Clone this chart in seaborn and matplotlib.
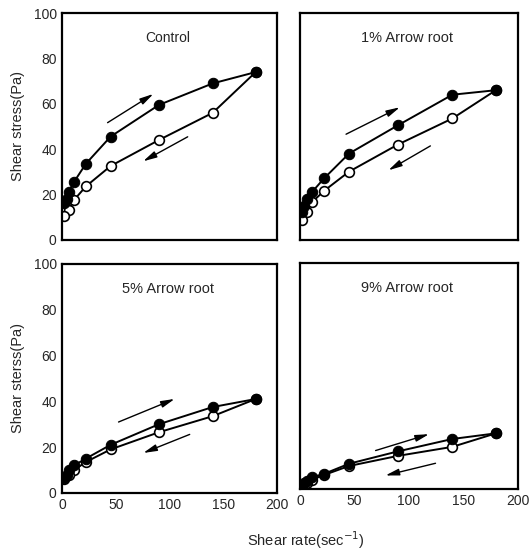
import numpy as np
import pandas as pd
import matplotlib
matplotlib.use("Agg")
import matplotlib.pyplot as plt
import seaborn as sns

# shear rates (sec^-1), up curve goes low -> high, down curve high -> low
rate_up = [2, 4, 6, 11, 22, 45, 90, 140, 180]
rate_down = [180, 140, 90, 45, 22, 11, 6, 2]

panels = ["Control", "1% Arrow root", "5% Arrow root", "9% Arrow root"]
title_sizes = [10, 10.5, 10.5, 10.5]

control_up = [16, 18, 21, 25.5, 33.5, 45.5, 59.5, 69, 74]
control_down = [74, 56, 44, 32.5, 23.5, 17.5, 13, 10.5]

ar1_up = [12, 15, 18, 21, 27, 38, 50.5, 64, 66]
ar1_down = [66, 53.5, 42, 30, 21.5, 16.5, 12, 8.5]

ar5_up = [6.5, 8, 10, 12, 15, 21, 30, 37.5, 41]
ar5_down = [41, 33.5, 26.5, 19, 13.5, 10, 8, 6]

ar9_up = [1.5, 2.5, 3.5, 5, 6.5, 11, 16.5, 22, 24.5]
ar9_down = [24.5, 18.5, 14.5, 10, 6, 4, 2.5, 1.5]

ups = [control_up, ar1_up, ar5_up, ar9_up]
downs = [control_down, ar1_down, ar5_down, ar9_down]

# direction arrows (x0, y0, x1, y1) in data units
arrows_up = [(40, 51, 87, 65), (40, 46, 94, 59), (50, 30.5, 107, 41.5), (67, 16.5, 121, 24.5)]
arrows_down = [(119, 46, 73, 34), (122, 42, 79, 30), (121, 26, 73, 17), (127, 11.5, 76, 5.5)]

sns.set_style("white")
plt.rcParams["font.family"] = ["Liberation Sans", "DejaVu Sans"]

fig = plt.figure(figsize=(5.32, 5.52), dpi=100)
rects = [
    [0.117, 0.566, 0.404, 0.410],
    [0.564, 0.566, 0.409, 0.410],
    [0.117, 0.107, 0.404, 0.415],
    [0.564, 0.115, 0.409, 0.408],
]

arrow_props = dict(arrowstyle="-|>,head_length=0.9,head_width=0.22",
                   color="black", lw=1.0, mutation_scale=9)

for i, name in enumerate(panels):
    ax = fig.add_axes(rects[i])
    sns.lineplot(x=rate_down, y=downs[i], ax=ax, sort=False, color="black",
                 lw=1.4, marker="o", markersize=7, markerfacecolor="white",
                 markeredgecolor="black", markeredgewidth=1.2)
    sns.lineplot(x=rate_up, y=ups[i], ax=ax, sort=False, color="black",
                 lw=1.4, marker="o", markersize=7.5, markerfacecolor="black",
                 markeredgecolor="black")
    x0, y0, x1, y1 = arrows_up[i]
    ax.annotate("", xy=(x1, y1), xytext=(x0, y0), arrowprops=arrow_props)
    x0, y0, x1, y1 = arrows_down[i]
    ax.annotate("", xy=(x1, y1), xytext=(x0, y0), arrowprops=arrow_props)
    ax.text(0.49, 0.89, name, transform=ax.transAxes, ha="center",
            va="center", fontsize=title_sizes[i])
    ax.set_xlim(0, 200)
    ax.set_ylim(0, 100)
    ax.set_xticks([0, 50, 100, 150, 200])
    ax.set_yticks([0, 20, 40, 60, 80, 100])
    ax.tick_params(direction="in", length=2.5, width=0.8, labelsize=10,
                   pad=4)
    for s in ax.spines.values():
        s.set_linewidth(1.6)
        s.set_color("black")
    if i < 2:
        ax.set_xticklabels([])
    if i % 2 == 1:
        ax.set_yticklabels([])
    ax.set_xlabel("")
    ax.set_ylabel("")

fig.axes[0].set_ylabel("Shear stress(Pa)", fontsize=10.5, labelpad=6)
fig.axes[2].set_ylabel("Shear sterss(Pa)", fontsize=10.5, labelpad=6)
fig.text(0.575, 0.022, "Shear rate(sec$^{-1}$)", ha="center", va="center",
         fontsize=10.5)

fig.savefig("out.png", dpi=100)
